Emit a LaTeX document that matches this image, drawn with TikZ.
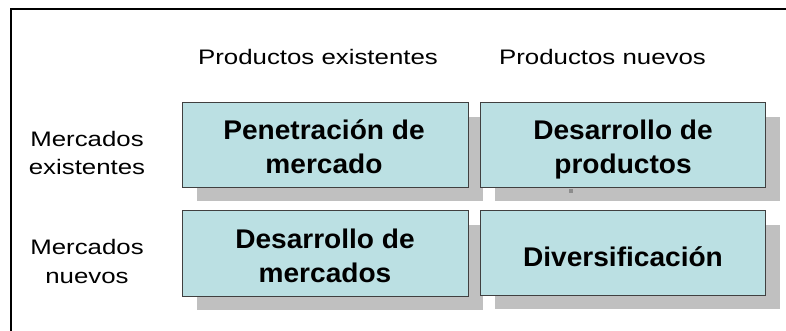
\documentclass[tikz,border=0pt]{standalone}
\usepackage{fontspec}
\setmainfont{Liberation Sans}
\newfontfamily\labelfont[FakeStretch=1.23]{Liberation Sans}
\newfontfamily\cellfont[FakeStretch=1.04]{Liberation Sans}
\usetikzlibrary{shadows}
\definecolor{cellblue}{HTML}{BBE0E3}
\definecolor{shadowgray}{HTML}{C0C0C0}
\tikzset{cell/.style={draw=black!75, line width=1.3pt, fill=cellblue, inner sep=0pt,
    general shadow={fill=shadowgray, shadow xshift=14.5pt, shadow yshift=-14pt}},
  celltext/.style={align=center, inner sep=0pt, anchor=base, font=\cellfont\bfseries\fontsize{27}{34}\selectfont},
  lbl/.style={align=center, inner sep=0pt, anchor=base, font=\labelfont\fontsize{21}{28.5}\selectfont}}

\begin{document}
\begin{tikzpicture}[x=1pt, y=-1pt]
\useasboundingbox (0,0) rectangle (786,331);
\draw[line width=2pt] (11,331) -- (11,9.3) -- (786,9.3);
% column and row headings
\node[lbl] (colold) at (318,65) {Productos existentes};
\node[lbl] (colnew) at (602.5,65) {Productos nuevos};
\node[lbl] (rowold) at (87,175) {Mercados\\existentes};
\node[lbl] (rownew) at (87,283) {Mercados\\nuevos};
% the four cells
\node[cell, minimum width=285.6pt, minimum height=84.6pt] (pen) at (325.5,145) {};
\node[cell, minimum width=284.6pt, minimum height=84.6pt] (prod) at (623,145) {};
\node[cell, minimum width=285.6pt, minimum height=85.6pt] (merc) at (325.5,253.5) {};
\node[cell, minimum width=284.6pt, minimum height=84.6pt] (div) at (623,253) {};
\fill[black!45] (569.3,189) rectangle (573.3,193.3);
\node[celltext] (pentext) at (324,173.5) {Penetración de\\mercado};
\node[celltext] (prodtext) at (623,173.3) {Desarrollo de\\productos};
\node[celltext] (merctext) at (325,282) {Desarrollo de\\mercados};
\node[celltext] (divtext) at (623,266.3) {Diversificación};
\end{tikzpicture}
\end{document}
